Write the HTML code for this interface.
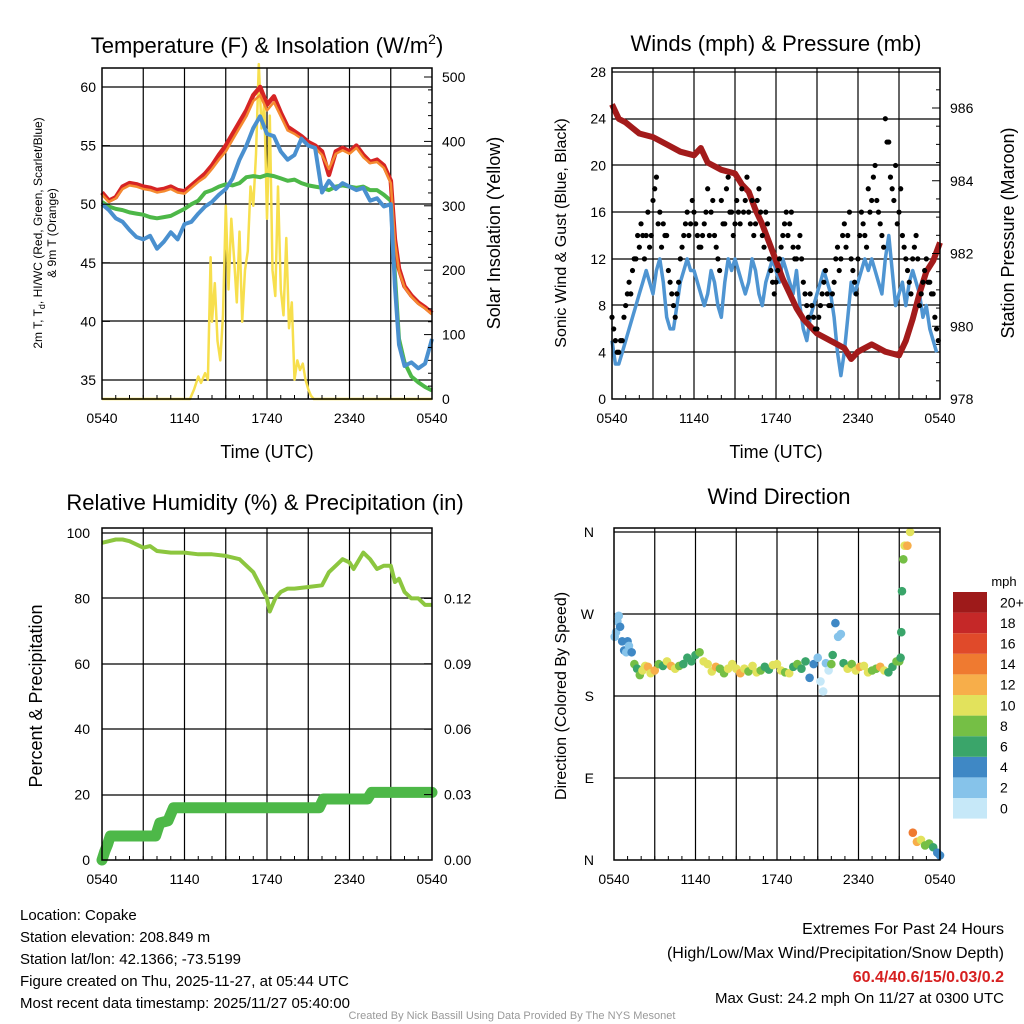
<!DOCTYPE html>
<html><head><meta charset="utf-8">
<style>
html,body{margin:0;padding:0;background:#fff;}
svg{display:block;font-family:"Liberation Sans",Arial,sans-serif;}
</style></head>
<body>
<svg id="chart" width="1024" height="1024" viewBox="0 0 1024 1024">
<rect width="1024" height="1024" fill="#fff"/>
</svg>
<script>
// ---------- Data (hours since 05:40 UTC) ----------
const xTickLabels = ["0540","1140","1740","2340","0540"];
const tempHours = [0,0.5,1,1.5,2,2.5,3,3.5,4,4.5,5,5.5,6,6.5,7,7.5,8,8.5,9,9.5,10,10.5,11,11.5,12,12.5,13,13.5,14,14.5,15,15.5,16,16.5,17,17.5,18,18.5,19,19.5,20,20.5,21,21.3,21.6,22,22.5,23,23.5,24];
const tempRed   = [51,50.3,50.6,51.5,51.8,51.7,51.5,51.4,51.2,51.3,51.5,51.2,51.1,51.6,52.1,52.6,53.3,54.2,55,56,57,58,59.3,60,58.5,59.2,57.8,56.6,56.2,55.8,55.3,55,54.5,52.5,54.5,54.8,54.5,55,54.2,53.6,53.8,53.3,52,47,44.5,43,42.2,41.6,41.2,40.7];
const tempOrange= [50.8,50.2,50.5,51.3,51.6,51.5,51.3,51.2,51,51.1,51.3,51,50.9,51.4,51.9,52.3,53,53.8,54.5,55.5,56.5,57.5,58.8,59.3,58,58.7,57.5,56.3,56,55.6,55.1,54.8,54.2,53,54.3,54.6,54.3,54.8,54,53.5,53.6,53.1,51.8,46.8,44.3,42.9,42.1,41.5,41.1,40.6];
const tempBlue  = [50,49.5,48.8,48.5,47.8,47.2,47,47.3,46.2,46.8,47.6,47,48.3,48.5,49.2,49.8,50.2,50.8,51.3,52.2,53.8,55,56.5,57.5,56,55.8,54.5,53.8,54.2,55.6,55,54.8,51,52,51.3,51.8,51.5,51.2,51.4,50.3,50.5,49.8,50,43,38,36.2,36.5,36,36.4,38.5];
const tempGreen = [50.2,49.8,49.6,49.5,49.3,49.2,49.1,48.9,48.8,48.9,49,49.3,49.6,50,50.3,51,51.2,51.5,51.7,51.6,51.8,52.3,52.4,52.3,52.5,52.4,52.2,52,52.1,51.8,51.6,51.5,51.4,51.2,51.5,51.6,51.5,51.4,51.5,51.2,51.2,50.8,50.3,44,38.5,36.5,35.3,34.8,34.4,34.1];
const solarHours = [0,6.4,6.7,7.0,7.2,7.5,7.7,7.9,8.0,8.2,8.4,8.6,8.8,9.0,9.2,9.4,9.6,9.8,10.0,10.2,10.4,10.6,10.8,11.0,11.2,11.4,11.6,11.8,12.0,12.2,12.4,12.6,12.8,13.0,13.2,13.4,13.6,13.8,14.0,14.2,14.4,14.6,14.8,15.0,15.2,15.4,24];
const solarVals  = [0,0,15,35,25,40,30,220,120,180,90,60,130,300,170,280,220,150,260,120,200,230,330,300,380,520,420,460,280,440,200,160,330,170,130,250,110,150,30,60,45,55,30,15,5,0,0];
const windHours = [];
for (let i=0;i<96;i++) windHours.push(i*0.25);
const gustVals = [7,5,4,5,8,10,11,12,13,14,14,13,17,19,16,15,14,10,8,9,12,14,16,15,16,14,13,15,18,16,14,12,17,15,19,16,15,16,18,17,16,17,15,18,14,16,12,10,10,12,14,16,15,13,12,14,10,8,9,7,6,8,10,9,8,10,13,12,15,14,12,10,12,16,14,18,17,20,16,14,24,22,18,20,16,14,12,10,12,14,8,10,12,10,9,6];
const gustVals2 = [6,4,5,7,9,9,12,14,15,12,16,14,18,15,13,14,11,9,7,10,13,15,14,17,15,13,14,16,14,17,13,11,15,18,16,14,17,15,16,19,15,14,17,16,13,15,11,9,11,13,15,14,16,12,13,12,9,7,8,6,7,9,11,8,9,12,11,14,13,16,11,9,14,15,13,16,19,17,15,13,22,19,17,15,18,13,11,9,13,12,9,11,10,9,7,5];
const sonicVals = [5,3,3,4,5,6,7,8,9,10,11,10,9,11,12,10,7,6,6,8,10,11,12,11,11,10,9,8,9,11,10,8,7,10,12,11,12,11,10,9,10,12,11,9,8,10,11,12,11,10,12,11,10,9,11,8,6,5,7,8,9,10,11,10,9,7,4,2,4,7,10,9,10,11,12,11,12,11,10,9,12,14,11,8,9,10,8,10,11,10,9,7,8,6,5,4];
const pressHours = [0,0.5,1,2,3,4,5,6,6.5,7,8,9,9.5,10,10.5,11,11.5,12,12.5,13,13.5,14,14.5,15,16,17,17.5,18,19,20,21,21.5,22,22.5,23,23.5,24];
const pressVals  = [986.1,985.7,985.6,985.3,985.2,985.0,984.8,984.7,984.9,984.5,984.3,984.2,983.9,983.7,983.2,982.8,982.3,981.8,981.3,980.9,980.5,980.2,980.0,979.8,979.6,979.4,979.1,979.3,979.5,979.3,979.2,979.6,980.2,980.9,981.5,981.8,982.3];
const rhHours = [0,0.5,1,1.5,2,3,3.5,4,5,6,7,8,9,10,10.5,11,11.5,12,12.2,12.6,13,13.5,14,15,16,16.5,17,17.5,18,18.3,19,19.5,20,20.5,21,21.3,21.6,22,22.5,23,23.5,24];
const rhVals  = [97,97.5,98,98,97.5,95.5,96,94.5,94,94,93.5,93.5,93,92,90,88,84,80,76,80,82,83,83,83.5,84,88,90,92,91,89,94,92,89,90,90,85,86,82,80,80,78,78];
const precipHours = [0,0.2,0.4,0.6,3.9,4.2,4.8,5.2,15.8,16.1,19.3,19.6,24];
const precipVals  = [0,0.004,0.007,0.011,0.011,0.017,0.018,0.024,0.024,0.028,0.028,0.031,0.031];
const dirHours = [0.05,0.15,0.25,0.35,0.45,0.6,0.75,0.9,1.0,1.1,1.3,1.5,1.7,1.9,2.1,2.3,2.5,2.7,3.0,3.3,3.6,3.9,4.2,4.5,4.8,5.1,5.4,5.7,6.0,6.3,6.6,6.9,7.2,7.5,7.8,8.1,8.4,8.7,9.0,9.3,9.6,9.9,10.2,10.5,10.8,11.1,11.4,11.7,12.0,12.3,12.6,12.9,13.2,13.5,13.8,14.1,14.4,14.7,15.0,15.2,15.4,15.6,15.8,16.0,16.1,16.3,16.5,16.7,16.9,17.2,17.5,17.8,18.1,18.4,18.7,19.0,19.3,19.6,19.9,20.2,20.5,20.8,21.0,21.1,21.15,21.2,21.3,21.4,21.6,21.8,22.0,22.3,22.6,22.9,23.2,23.5,23.8,24];
const dirVals  = [245,250,262,268,256,240,230,228,240,235,228,215,210,203,208,213,212,205,208,215,213,218,213,210,213,215,222,218,225,228,218,215,207,212,210,205,210,215,210,205,210,207,213,206,208,212,209,214,215,208,206,205,212,215,210,218,200,215,222,196,185,216,208,215,225,260,245,248,216,210,215,208,212,213,206,208,210,212,208,206,212,218,218,222,250,295,330,345,345,360,30,20,22,16,18,14,8,5];
const dirSpeeds= [3,2,2,2,4,4,4,2,4,3,4,8,7,9,10,11,12,11,12,8,6,10,12,11,9,7,6,6,7,9,10,11,10,12,9,8,10,11,10,12,10,9,11,10,8,6,7,10,10,11,9,10,6,9,7,6,5,4,3,1,0,2,1,8,6,4,3,2,7,10,9,10,12,10,11,8,9,12,10,7,6,8,8,7,6,6,8,10,12,10,14,13,10,8,9,6,5,4];
const speedColors = ["#c6e8f8","#86c3ea","#3f88c5","#3aa56a","#75bf45","#e2e25c","#f7ae4a","#ef7a30","#e04a2a","#c52828","#9e1a1a"];
const speedLabels = ["0","2","4","6","8","10","12","14","16","18","20+"];

// ---------- helpers ----------
const NS="http://www.w3.org/2000/svg";
const svg=document.getElementById('chart');
const TK=14;
function mk(tag, attrs, parent){
  const e=document.createElementNS(NS,tag);
  for(const k in attrs) e.setAttribute(k,attrs[k]);
  (parent||svg).appendChild(e); return e;
}
function txt(x,y,s,size,anchor,extra){
  const t=mk('text',Object.assign({x:x,y:y,'font-size':size,'text-anchor':anchor||'middle',fill:'#000'},extra||{}));
  t.textContent=s; return t;
}
function linScale(d0,d1,r0,r1){return v=>r0+(v-d0)*(r1-r0)/(d1-d0);}
function pathFrom(xs,ys,sx,sy){
  let d='';
  for(let i=0;i<xs.length;i++) d+=(i?'L':'M')+sx(xs[i]).toFixed(1)+','+sy(ys[i]).toFixed(1);
  return d;
}
function frame(x0,y0,x1,y1,hLines,sx,name){
  const g=mk('g',{});
  
  
  for(let h=3;h<24;h+=3) mk('line',{x1:sx(h),x2:sx(h),y1:y0,y2:y1,stroke:'#000','stroke-width':1.2},g);
  hLines.forEach(y=>mk('line',{x1:x0,x2:x1,y1:y,y2:y,stroke:'#000','stroke-width':1.2},g));
}
function border(x0,y0,x1,y1,name){
  const r=mk('rect',{x:x0,y:y0,width:x1-x0,height:y1-y0,fill:'none',stroke:'#000','stroke-width':1.5});
  
  
}
function xAxis(x0,x1,y1,sx,name){
  const g=mk('g',{});
  
  
  xTickLabels.forEach((l,i)=>{
    const x=sx(i*6);
    mk('line',{x1:x,x2:x,y1:y1,y2:y1-8,stroke:'#000'},g);
    const t=txt(x,y1+24,l,TK); g.appendChild(t);
  });
  for(let h=1;h<24;h++){ if(h%6) mk('line',{x1:sx(h),x2:sx(h),y1:y1,y2:y1-4,stroke:'#000'},g); }
}

// ================= Panel 1: Temperature =================
{
 const X0=102,X1=432,Y0=68,Y1=399;
 const sx=linScale(0,24,X0,X1), sy=linScale(35,60,380,87), ss=linScale(0,500,399,77);
 const hl=[87,146,204,263,321,380];
 frame(X0,Y0,X1,Y1,hl,sx,'temperature-panel');
 const c=mk('g',{}); 
 
 
 const sol=mk('path',{d:pathFrom(solarHours,solarVals,sx,ss),fill:'none',stroke:'#f7df4d','stroke-width':2.5,'stroke-linejoin':'round'},c);
 
 
 const g=mk('path',{d:pathFrom(tempHours,tempGreen,sx,sy),fill:'none',stroke:'#4db848','stroke-width':4,'stroke-linejoin':'round'},c);
 
 
 const r=mk('path',{d:pathFrom(tempHours,tempRed,sx,sy),fill:'none',stroke:'#d62424','stroke-width':4.5,'stroke-linejoin':'round'},c);
 
 
 const o=mk('path',{d:pathFrom(tempHours,tempOrange,sx,sy),fill:'none',stroke:'#f58a30','stroke-width':2.5,'stroke-linejoin':'round'},c);
 
 
 const b=mk('path',{d:pathFrom(tempHours,tempBlue,sx,sy),fill:'none',stroke:'#4a90cf','stroke-width':4,'stroke-linejoin':'round'},c);
 
 
 border(X0,Y0,X1,Y1,'temperature-panel');
 xAxis(X0,X1,Y1,sx,'temperature-panel');
 [60,55,50,45,40,35].forEach(v=>{txt(X0-6,sy(v)+5,String(v),TK,'end'); mk('line',{x1:X0,x2:X0+8,y1:sy(v),y2:sy(v),stroke:'#000'});});
 [0,100,200,300,400,500].forEach(v=>{txt(X1+10,ss(v)+5,String(v),TK,'start'); mk('line',{x1:X1,x2:X1-8,y1:ss(v),y2:ss(v),stroke:'#000'});});
 for(let v=20;v<=500;v+=20){ if(v%100) mk('line',{x1:X1,x2:X1-4,y1:ss(v),y2:ss(v),stroke:'#000'}); }
 const t1=txt(267,53,'Temperature (F) & Insolation (W/m',22); 
  
 const sup=mk('tspan',{'font-size':14,dy:-9},t1); sup.textContent='2';
 const sup2=mk('tspan',{'font-size':22,dy:9},t1); sup2.textContent=')';
 const xl=txt(267,458,'Time (UTC)',18);  
 const yl=txt(0,0,'2m T, T',12,'middle',{transform:'translate(42,233) rotate(-90)'});
  
 const sub=mk('tspan',{'font-size':9,dy:3},yl); sub.textContent='d';
 const rest=mk('tspan',{dy:-3},yl); rest.textContent=', HI/WC (Red, Green, Scarlet/Blue)';
 const yl2=txt(0,0,'& 9m T (Orange)',12,'middle',{transform:'translate(56,233) rotate(-90)'});
  
 const yr=txt(0,0,'Solar Insolation (Yellow)',18,'middle',{transform:'translate(500,233) rotate(-90)'});
  
}

// ================= Panel 2: Winds & Pressure =================
{
 const X0=612,X1=940,Y0=68,Y1=399;
 const sx=linScale(0,24,X0,X1), sy=linScale(0,28,399,72), sp=linScale(978,986,399,108);
 const hl=[72,119,165,212,259,305,352];
 frame(X0,Y0,X1,Y1,hl,sx,'winds-panel');
 const so=mk('path',{d:pathFrom(windHours,sonicVals,sx,sy),fill:'none',stroke:'#4f95d2','stroke-width':3.5,'stroke-linejoin':'round'});
  
 const pr=mk('path',{d:pathFrom(pressHours,pressVals,sx,sp),fill:'none',stroke:'#a31b1b','stroke-width':6,'stroke-linejoin':'round'});
  
 const gg=mk('g',{});  
 windHours.forEach((h,i)=>{
   const c=mk('circle',{cx:sx(h),cy:sy(gustVals[i]),r:2.6,fill:'#000'},gg);
    
   const c2=mk('circle',{cx:sx(h+0.125),cy:sy(gustVals2[i]),r:2.6,fill:'#000'},gg);
    
 });
 border(X0,Y0,X1,Y1,'winds-panel');
 xAxis(X0,X1,Y1,sx,'winds-panel');
 [0,4,8,12,16,20,24,28].forEach(v=>{txt(X0-6,sy(v)+5,String(v),TK,'end');});
 [978,980,982,984,986].forEach(v=>{txt(X1+10,sp(v)+5,String(v),TK,'start'); mk('line',{x1:X1,x2:X1-8,y1:sp(v),y2:sp(v),stroke:'#000'});});
 for(let v=978.5;v<987;v+=0.5){ if(v%2) mk('line',{x1:X1,x2:X1-4,y1:sp(v),y2:sp(v),stroke:'#000'}); }
 const t=txt(776,51,'Winds (mph) & Pressure (mb)',22);  
 const xl=txt(776,458,'Time (UTC)',18);  
 const yl=txt(0,0,'Sonic Wind & Gust (Blue, Black)',16,'middle',{transform:'translate(566,233) rotate(-90)'});
  
 const yr=txt(0,0,'Station Pressure (Maroon)',18,'middle',{transform:'translate(1014,233) rotate(-90)'});
  
}

// ================= Panel 3: RH & Precip =================
{
 const X0=102,X1=432,Y0=528,Y1=860;
 const sx=linScale(0,24,X0,X1), sy=linScale(0,100,860,533), spp=linScale(0,0.03,860,794.6);
 const hl=[533,598,664,729,795];
 frame(X0,Y0,X1,Y1,hl,sx,'humidity-panel');
 const p=mk('path',{d:pathFrom(precipHours,precipVals,sx,spp),fill:'none',stroke:'#4db848','stroke-width':11,'stroke-linejoin':'round','stroke-linecap':'round'});
  
 const r=mk('path',{d:pathFrom(rhHours,rhVals,sx,sy),fill:'none',stroke:'#8cc63f','stroke-width':4,'stroke-linejoin':'round'});
  
 border(X0,Y0,X1,Y1,'humidity-panel');
 xAxis(X0,X1,Y1,sx,'humidity-panel');
 [0,20,40,60,80,100].forEach(v=>{txt(X0-12,sy(v)+5,String(v),TK,'end');});
 ['0.00','0.03','0.06','0.09','0.12'].forEach(v=>{const y=spp(parseFloat(v)); txt(X1+12,y+5,v,TK,'start'); mk('line',{x1:X1,x2:X1-8,y1:y,y2:y,stroke:'#000'});});
 const t=txt(265,510,'Relative Humidity (%) & Precipitation (in)',22);  
 const yl=txt(0,0,'Percent & Precipitation',18,'middle',{transform:'translate(42,696) rotate(-90)'});
  
}

// ================= Panel 4: Wind Direction =================
{
 const X0=614,X1=940,Y0=528,Y1=860;
 const sx=linScale(0,24,X0,X1), sy=linScale(0,360,860,532);
 const hl=[532,614,696,778];
 frame(X0,Y0,X1,Y1,hl,sx,'direction-panel');
 const gg=mk('g',{});  
 dirHours.forEach((h,i)=>{
   const ci=Math.min(10,Math.floor(dirSpeeds[i]/2));
   const c=mk('circle',{cx:sx(h),cy:sy(dirVals[i]),r:4.3,fill:speedColors[ci]},gg);
    
 });
 border(X0,Y0,X1,Y1,'direction-panel');
 xAxis(X0,X1,Y1,sx,'direction-panel');
 [['N',360],['W',270],['S',180],['E',90],['N',0]].forEach(([l,v])=>{txt(X0-20,sy(v)+5,l,TK,'end');});
 const t=txt(779,504,'Wind Direction',22);  
 const yl=txt(0,0,'Direction (Colored By Speed)',16,'middle',{transform:'translate(566,696) rotate(-90)'});
  
 const cb=mk('g',{});  
 const bh=20.6, top=592;
 speedColors.forEach((col,i)=>{
   const y=top+(10-i)*bh;
   mk('rect',{x:953,y:y,width:34,height:bh,fill:col},cb);
   txt(1000,y+bh/2+5,speedLabels[i],TK,'start');
 });
 txt(1004,586,'mph',13,'middle');
}

// ================= Footer =================
const leftInfo=["Location: Copake","Station elevation: 208.849 m","Station lat/lon: 42.1366; -73.5199","Figure created on Thu, 2025-11-27, at 05:44 UTC","Most recent data timestamp: 2025/11/27 05:40:00"];
leftInfo.forEach((s,i)=>{const t=txt(20,920+i*22,s,15,'start');  });
[["Extremes For Past 24 Hours",934],["(High/Low/Max Wind/Precipitation/Snow Depth)",958]].forEach(([s,y])=>{const t=txt(1004,y,s,16,'end');  });
const ex=txt(1004,982,'60.4/40.6/15/0.03/0.2',16,'end',{fill:'#d62020','font-weight':'bold'});  
const mg=txt(1004,1003,'Max Gust: 24.2 mph On 11/27 at 0300 UTC',15,'end');  
const cr=txt(512,1019,'Created By Nick Bassill Using Data Provided By The NYS Mesonet',11,'middle',{fill:'#999'});  
</script>
</body></html>
